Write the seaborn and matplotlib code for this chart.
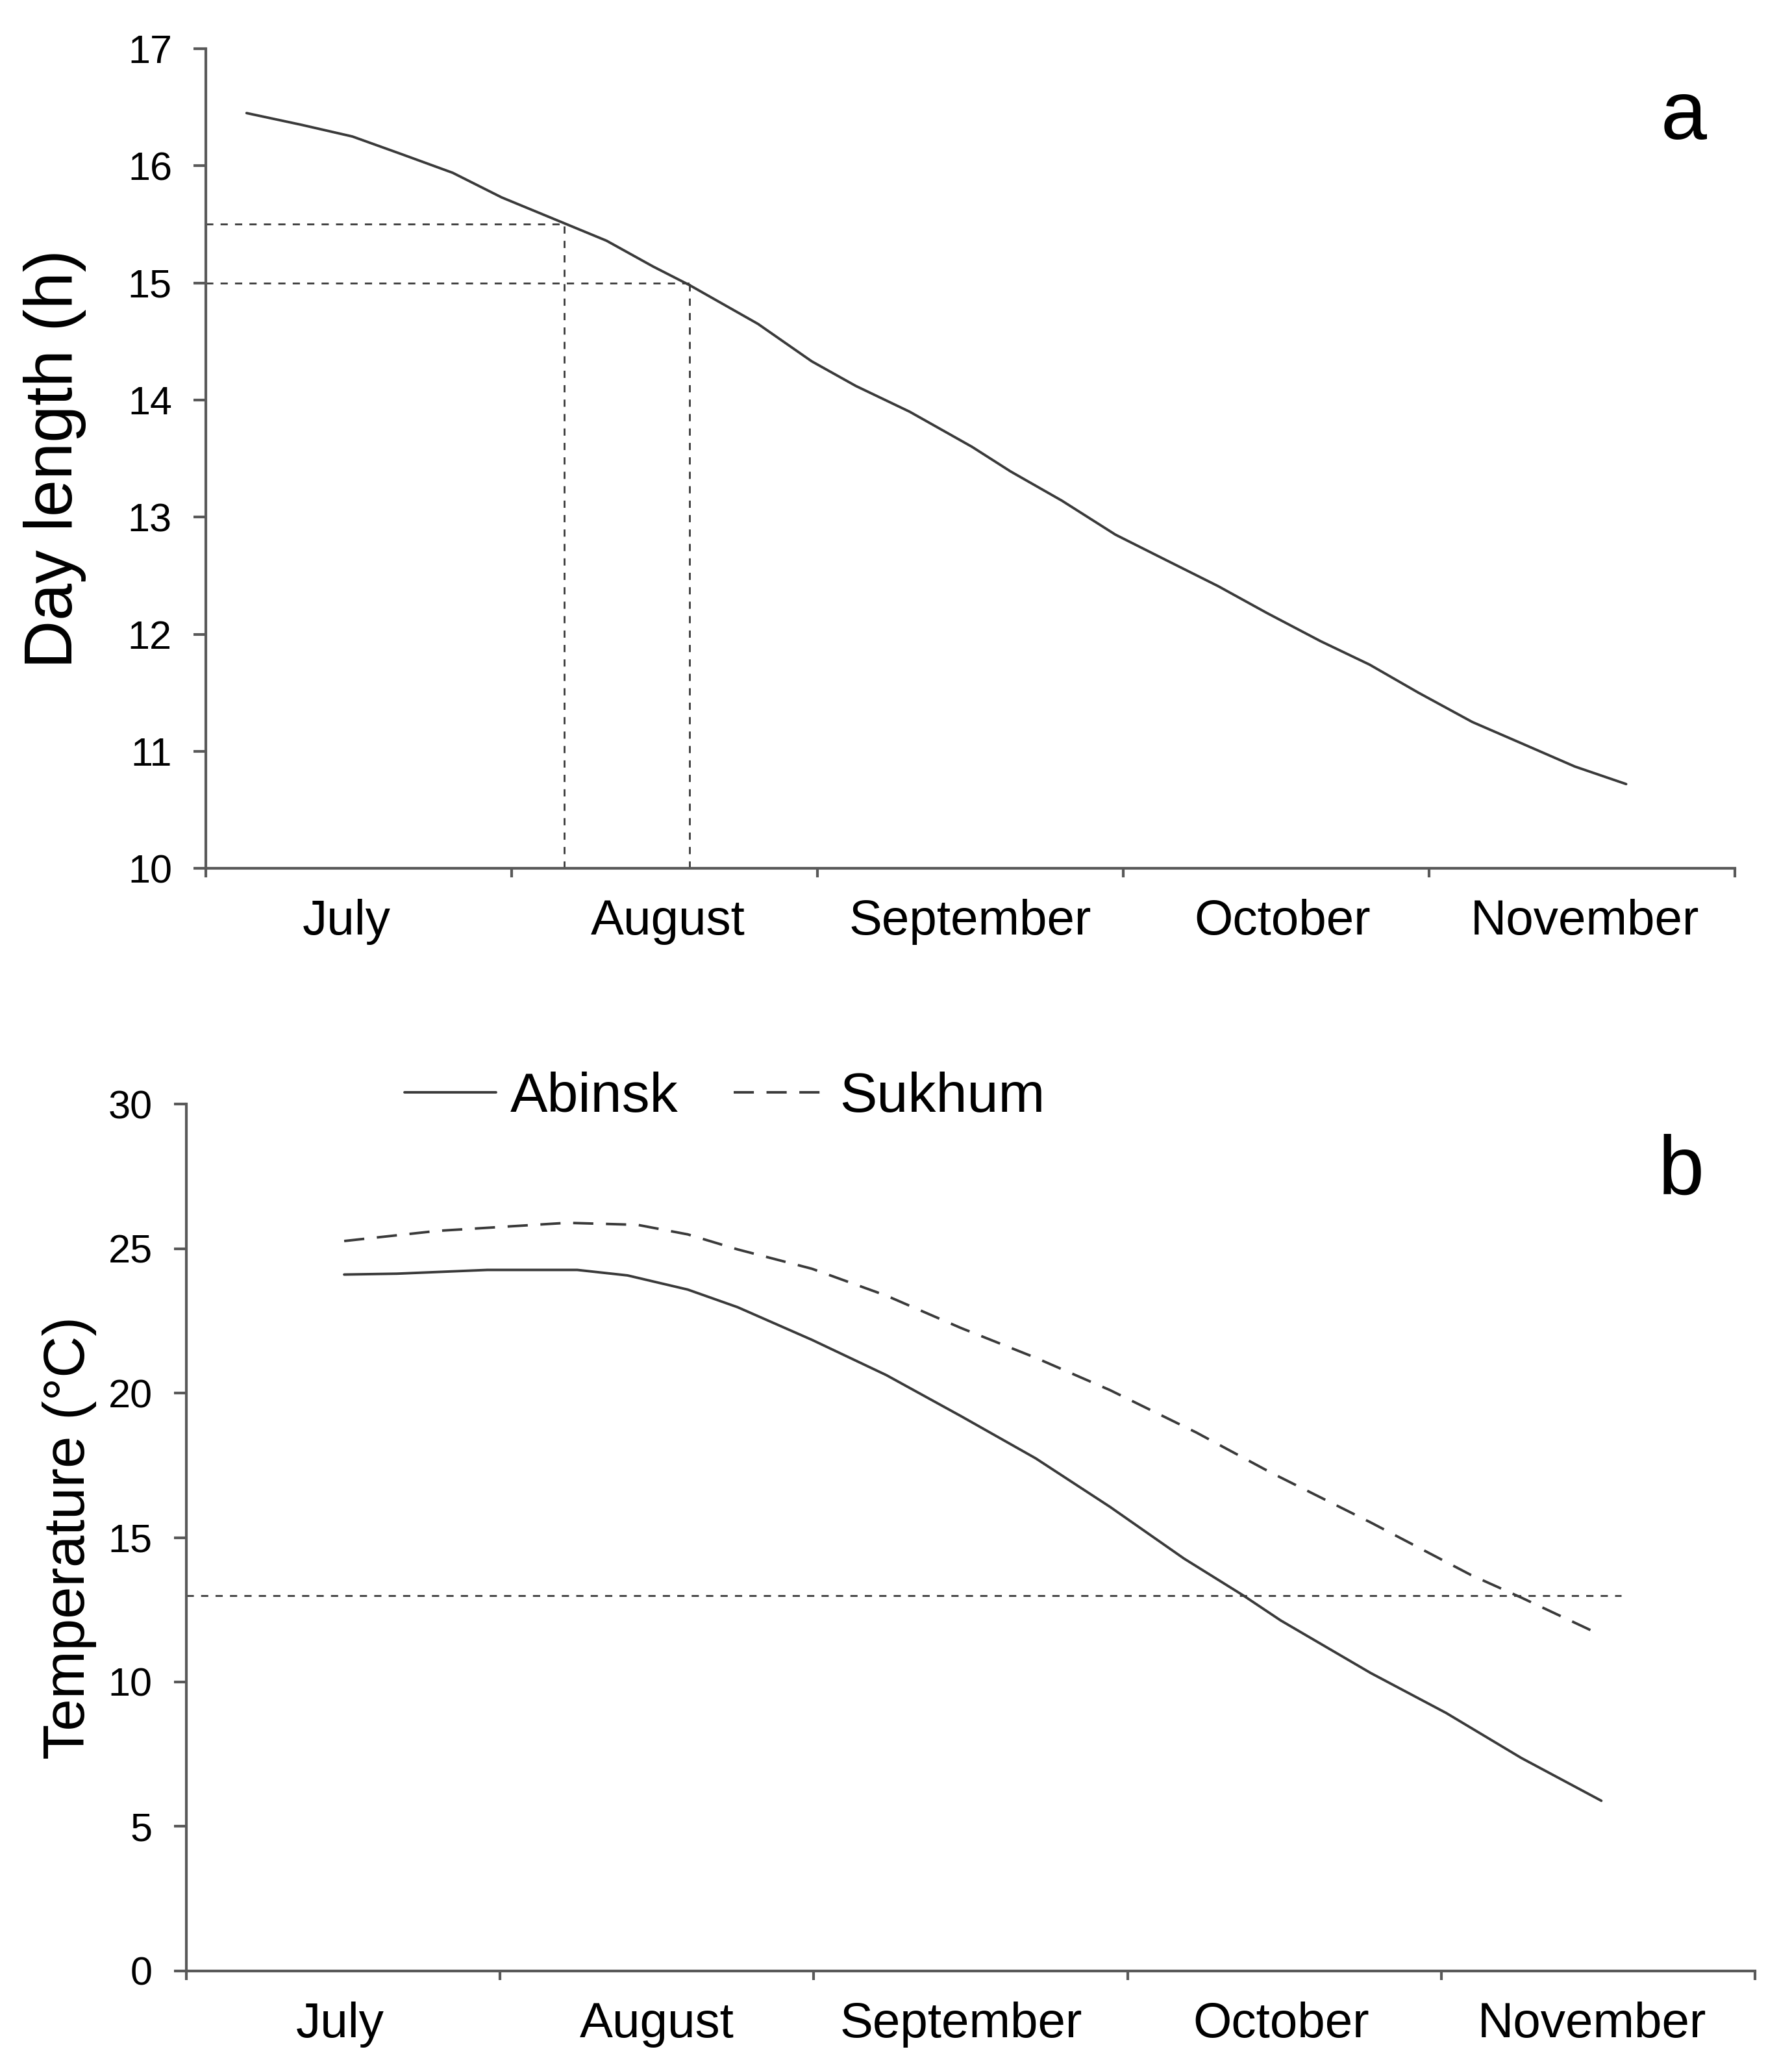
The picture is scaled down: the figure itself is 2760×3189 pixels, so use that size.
import seaborn as sns
import matplotlib.pyplot as plt

# x position in months from 1 July (0 = start of July, 5 = end of November)
dayPos = [0.133, 0.312, 0.479, 0.639, 0.807, 0.967, 1.171, 1.310, 1.462, 1.582,
          1.805, 1.981, 2.125, 2.301, 2.505, 2.631, 2.799, 2.974, 3.134, 3.310,
          3.470, 3.645, 3.805, 3.965, 4.141, 4.300, 4.476, 4.644]
dayLength = [16.45, 16.35, 16.25, 16.10, 15.94, 15.73, 15.51, 15.36, 15.14, 14.98,
             14.65, 14.33, 14.12, 13.90, 13.60, 13.39, 13.14, 12.85, 12.64, 12.41,
             12.18, 11.94, 11.74, 11.50, 11.25, 11.07, 10.87, 10.72]

abinskPos = [0.503, 0.671, 0.959, 1.246, 1.406, 1.598, 1.757, 1.994, 2.231, 2.469,
             2.707, 2.944, 3.180, 3.368, 3.488, 3.775, 4.015, 4.255, 4.510]
abinskTemp = [24.10, 24.13, 24.26, 24.26, 24.07, 23.58, 22.97, 21.84, 20.62, 19.20,
              17.74, 16.06, 14.27, 13.00, 12.13, 10.31, 8.93, 7.37, 5.89]

sukhumPos = [0.503, 0.799, 1.214, 1.438, 1.598, 1.757, 1.994, 2.231, 2.469, 2.707,
             2.944, 3.218, 3.456, 3.775, 4.095, 4.255, 4.510]
sukhumTemp = [25.26, 25.61, 25.89, 25.82, 25.49, 24.97, 24.30, 23.37, 22.25, 21.22,
              20.10, 18.64, 17.25, 15.52, 13.70, 12.92, 11.62]

# reference lines
dayRefs = [15.5, 15.0]
dayRefPos = [1.171, 1.582]
tempThreshold = 13
thresholdEnd = 4.574

months = ['July', 'August', 'September', 'October', 'November']
topLabelPos = [0.46, 1.51, 2.50, 3.52, 4.51]
botLabelPos = [0.49, 1.50, 2.47, 3.49, 4.48]

sns.set_style('white')
plt.rcParams['font.family'] = ['Liberation Sans', 'DejaVu Sans']
plt.rcParams['text.color'] = 'black'
plt.rcParams['axes.labelcolor'] = 'black'
plt.rcParams['xtick.labelcolor'] = 'black'
plt.rcParams['ytick.labelcolor'] = 'black'

lineColor = '#3a3a3a'
axisColor = '#595959'

fig = plt.figure(figsize=(13.8, 15.945), dpi=200)
axTop = fig.add_axes([0.1149, 0.5807, 0.8533, 0.3958])
axBot = fig.add_axes([0.1040, 0.0483, 0.8754, 0.4186])

def styleAxis(ax, ylim, yticks, ylabel, labelSize, labelX, labelPos):
    ax.set_xlim(0, 5)
    ax.set_ylim(*ylim)
    for s in ['top', 'right']:
        ax.spines[s].set_visible(False)
    for s in ['left', 'bottom']:
        ax.spines[s].set_color(axisColor)
        ax.spines[s].set_linewidth(1.5)
    ax.set_xticks(range(6))
    ax.set_xticklabels([])
    ax.set_xticks(labelPos, minor=True)
    ax.set_xticklabels(months, minor=True, fontsize=27.5)
    ax.tick_params(axis='x', which='major', direction='out', length=5,
                   width=1.5, color=axisColor, bottom=True)
    ax.tick_params(axis='x', which='minor', length=0, pad=17, bottom=True)
    ax.set_yticks(yticks)
    ax.tick_params(axis='y', direction='out', length=6.8, width=1.5,
                   color=axisColor, labelsize=22, pad=12, left=True)
    ax.set_xlabel('')
    ax.set_ylabel(ylabel, fontsize=labelSize)
    ax.yaxis.set_label_coords(labelX, 0.5)

# panel a: day length
sns.lineplot(x=dayPos, y=dayLength, ax=axTop, color=lineColor, lw=1.4)
for ref, pos in zip(dayRefs, dayRefPos):
    axTop.plot([0, pos], [ref, ref], color=lineColor, lw=1.0, linestyle=(0, (4, 4)))
    axTop.plot([pos, pos], [10, ref], color=lineColor, lw=1.0, linestyle=(0, (4, 4)))
styleAxis(axTop, (10, 17), range(10, 18), 'Day length (h)', 37, -0.078, topLabelPos)

# panel b: temperature
sns.lineplot(x=abinskPos, y=abinskTemp, ax=axBot, color=lineColor, lw=1.4,
             label='Abinsk')
sns.lineplot(x=sukhumPos, y=sukhumTemp, ax=axBot, color=lineColor, lw=1.4,
             linestyle=(0, (8, 5)), label='Sukhum')
axBot.plot([0, thresholdEnd], [tempThreshold, tempThreshold], color=lineColor,
           lw=1.0, linestyle=(0, (4, 4)))
styleAxis(axBot, (0, 30), range(0, 31, 5), 'Temperature (°C)', 32, -0.057, botLabelPos)

handles, labels = axBot.get_legend_handles_labels()
axBot.legend(handles, labels, loc='center left', bbox_to_anchor=(0.139, 1.0075),
             ncol=2, frameon=False, fontsize=31, borderpad=0, borderaxespad=0,
             handlelength=1.64, handletextpad=0.25, columnspacing=1.0)

fig.text(0.9395, 0.9329, 'a', fontsize=46, ha='center', va='baseline')
fig.text(0.9380, 0.4233, 'b', fontsize=46, ha='center', va='baseline')

fig.savefig('out.png', dpi=200, facecolor='white')
